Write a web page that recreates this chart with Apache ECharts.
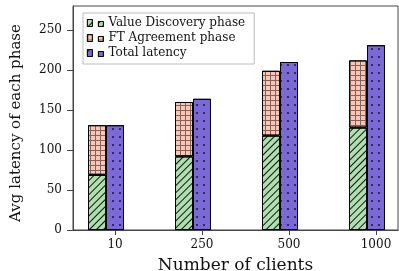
<!DOCTYPE html>
<html>
<head>
<meta charset="utf-8">
<script src="https://cdn.jsdelivr.net/npm/echarts@6/dist/echarts.min.js"></script>
<style>
html, body { margin: 0; padding: 0; background: #fff; }
#main { width: 399px; height: 271px; }
</style>
</head>
<body>
<div id="main"></div>
<script>
// data
var clients = ['10', '250', '500', '1000'];
var discovery = [69, 92, 118, 128];
var agreement = [62, 68, 81, 84];
var total = [131, 164, 210, 231];
var yTicks = [0, 50, 100, 150, 200, 250];
var xTicks = [0, 1, 2, 3];

var font = 'DejaVu Serif';
var yMax = 280;

var hatch = { symbol: 'rect', symbolSize: 1, color: '#111', dashArrayX: [1, 0], dashArrayY: [1, 3.2], rotation: -Math.PI / 4 };
var squares = { symbol: 'rect', symbolSize: 1, color: 'rgba(60,30,25,0.6)', dashArrayX: [[1, 0], [1, 3.5]], dashArrayY: [1, 0, 3.5, 0] };
var dots = { symbol: 'circle', symbolSize: 1, color: '#1a1a2a', dashArrayX: [2, 5], dashArrayY: [2, 5.7] };

var myChart = echarts.init(document.getElementById('main'));
var option = {
    animation: false,
    textStyle: { fontFamily: font, color: '#111' },
    grid: [
        // frame + visible axes
        { left: 73, right: 1, top: 6, bottom: 41, outerBoundsMode: 'none', show: true, borderColor: '#444', borderWidth: 1 },
        // bars: one category band per tick, 87px wide, shifted so the total bar sits on the tick
        { left: 62.5, width: 348, top: 6, bottom: 41, outerBoundsMode: 'none' }
    ],
    legend: {
        orient: 'vertical',
        left: 83, top: 13,
        padding: [4, 9, 5, 4],
        itemGap: 3,
        itemWidth: 16,
        itemHeight: 7,
        borderColor: '#bbb', borderWidth: 1, backgroundColor: '#fff',
        icon: 'path://M0,0h5v7h-5z M11,2h5v5h-5z',
        itemStyle: { borderColor: '#000', borderWidth: 0.8 },
        textStyle: { fontFamily: font, fontSize: 12, color: '#111' },
        data: ['Value Discovery phase', 'FT Agreement phase', 'Total latency']
    },
    xAxis: [{
        gridIndex: 0,
        type: 'value',
        min: -0.483, max: 3.253,
        name: 'Number of clients',
        nameLocation: 'middle',
        nameGap: 27,
        nameTextStyle: { fontFamily: font, fontSize: 17, color: '#111' },
        axisLine: { show: true, lineStyle: { color: '#444' } },
        axisTick: { show: true, customValues: xTicks, length: 5, lineStyle: { color: '#444' } },
        axisLabel: {
            customValues: xTicks,
            formatter: function (v) { return clients[Math.round(v)]; },
            fontFamily: font, fontSize: 12, margin: 9, color: '#111'
        },
        splitLine: { show: false }
    }, {
        gridIndex: 1,
        type: 'category',
        data: clients,
        show: false
    }],
    yAxis: [{
        gridIndex: 0,
        type: 'value',
        min: 0, max: yMax,
        name: 'Avg latency of each phase',
        nameLocation: 'middle',
        nameGap: 49,
        nameTextStyle: { fontFamily: font, fontSize: 15, color: '#111', padding: [0, 10, 0, 0] },
        axisLine: { show: true, onZero: false, lineStyle: { color: '#444' } },
        axisTick: { show: true, customValues: yTicks, length: 6, lineStyle: { color: '#444' } },
        axisLabel: { customValues: yTicks, fontFamily: font, fontSize: 12, margin: 11, color: '#111' },
        splitLine: { show: false }
    }, {
        gridIndex: 1,
        type: 'value',
        min: 0, max: yMax,
        show: false
    }],
    series: [
        {
            name: 'Value Discovery phase',
            type: 'bar',
            xAxisIndex: 1, yAxisIndex: 1,
            stack: 'phase',
            barWidth: 18,
            barGap: '0%',
            data: discovery,
            itemStyle: { color: '#aee0ad', borderColor: '#000', borderWidth: 1, decal: hatch }
        },
        {
            name: 'FT Agreement phase',
            type: 'bar',
            xAxisIndex: 1, yAxisIndex: 1,
            stack: 'phase',
            barWidth: 18,
            barGap: '0%',
            data: agreement,
            itemStyle: { color: '#f7c6b5', borderColor: '#000', borderWidth: 1, decal: squares }
        },
        {
            name: 'Total latency',
            type: 'bar',
            xAxisIndex: 1, yAxisIndex: 1,
            barWidth: 18,
            barGap: '0%',
            data: total,
            itemStyle: { color: '#7b69d8', borderColor: '#000', borderWidth: 1, decal: dots }
        }
    ]
};
myChart.setOption(option);
</script>
</body>
</html>
